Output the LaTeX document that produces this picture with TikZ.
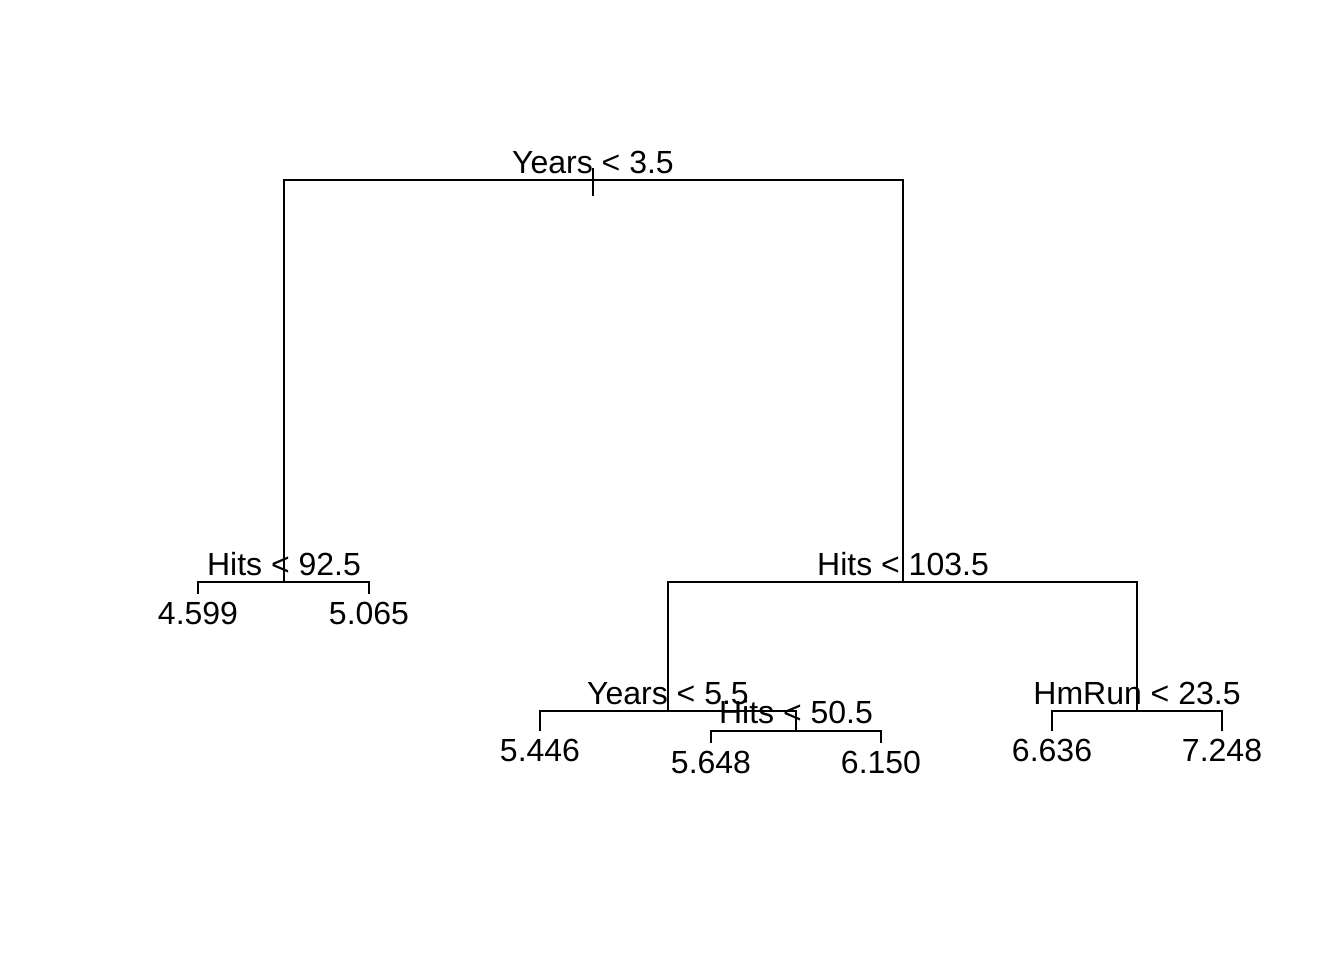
\documentclass[tikz,border=0pt]{standalone}
\usepackage{fontspec}
\setmainfont{Liberation Sans}
\usetikzlibrary{positioning}
\tikzset{branch/.style={line width=1.5pt},
         lbl/.style={anchor=base,inner sep=0pt,font=\fontsize{24}{28}\selectfont}}

\begin{document}
\begin{tikzpicture}[x=0.75pt,y=-0.75pt]
\useasboundingbox (0,0) rectangle (1344,960);
% split points
\coordinate (root) at (593,180);
\coordinate (rtop) at (593,168);
\coordinate (rbot) at (593,196);
\coordinate (hitsA) at (284,582);
\coordinate (hitsB) at (903,582);
\coordinate (yrsB) at (668,711);
\coordinate (hitsC) at (796,731);
\coordinate (hmrun) at (1137,711);
% leaf ends
\coordinate (lfA) at (198,594);
\coordinate (lfB) at (369,594);
\coordinate (lfC) at (540,731);
\coordinate (lfD) at (711,743);
\coordinate (lfE) at (881,743);
\coordinate (lfF) at (1052,731);
\coordinate (lfG) at (1222,731);
% branches
\draw[branch] (rtop) -- (rbot);
\draw[branch] (hitsA) |- (root) -| (hitsB);
\draw[branch] (lfA) |- (hitsA) -| (lfB);
\draw[branch] (yrsB) |- (hitsB) -| (hmrun);
\draw[branch] (lfC) |- (yrsB) -| (hitsC);
\draw[branch] (lfD) |- (hitsC) -| (lfE);
\draw[branch] (lfF) |- (hmrun) -| (lfG);
% split labels
\node[lbl] (tYrsA) at (593,173) {Years < 3.5};
\node[lbl] (tHitsA) at (284,575) {Hits < 92.5};
\node[lbl] (tHitsB) at (903,575) {Hits < 103.5};
\node[lbl] (tYrsB) at (668,704) {Years < 5.5};
\node[lbl] (tHitsC) at (796,723) {Hits < 50.5};
\node[lbl] (tHmRun) at (1137,704) {HmRun < 23.5};
% leaf labels
\node[lbl] (vA) at (198,624) {4.599};
\node[lbl] (vB) at (369,624) {5.065};
\node[lbl] (vC) at (540,761) {5.446};
\node[lbl] (vD) at (711,773) {5.648};
\node[lbl] (vE) at (881,773) {6.150};
\node[lbl] (vF) at (1052,761) {6.636};
\node[lbl] (vG) at (1222,761) {7.248};
\end{tikzpicture}
\end{document}
